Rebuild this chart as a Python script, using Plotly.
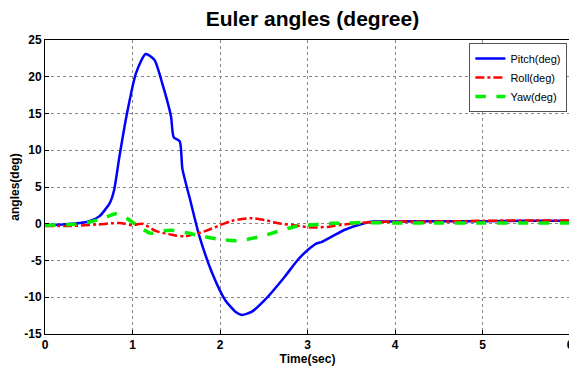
import plotly.graph_objects as go

# Pitch
pitch_t = [0.0, 0.2, 0.4, 0.5, 0.62, 0.74, 0.79, 0.85, 0.93, 1.04, 1.15, 1.25, 1.34, 1.44, 1.47, 1.54, 1.57,
           1.66, 1.76, 1.91, 2.06, 2.18, 2.25, 2.36, 2.51, 2.74, 2.89, 3.0, 3.1, 3.16, 3.42, 3.65, 3.75,
           4.0, 4.5, 5.0, 5.5, 6.0]
pitch_v = [-0.2, -0.1, 0.1, 0.3, 1.0, 2.8, 4.6, 9.1, 14.6, 20.5, 23.1, 22.3, 19.1, 14.6, 11.8, 11.2, 7.5,
           3.2, -1.5, -6.7, -10.4, -12.0, -12.4, -12.0, -10.4, -7.2, -4.9, -3.6, -2.7, -2.5, -0.85, 0.07, 0.3,
           0.3, 0.35, 0.35, 0.4, 0.4]

# Roll
roll_t = [0.0, 0.3, 0.6, 0.85, 1.0, 1.11, 1.27, 1.45, 1.6, 1.83, 2.0, 2.14, 2.36, 2.51, 2.7, 2.85, 3.04,
          3.25, 3.42, 3.7, 4.0, 4.5, 5.0, 5.5, 6.0]
roll_v = [-0.3, -0.3, -0.1, 0.1, -0.2, 0.0, -1.0, -1.5, -1.7, -1.0, -0.2, 0.4, 0.75, 0.5, 0.0, -0.2, -0.5,
          -0.4, -0.1, 0.2, 0.3, 0.3, 0.4, 0.45, 0.45]

# Yaw
yaw_t = [0.0, 0.3, 0.5, 0.6, 0.7, 0.81, 0.9, 1.0, 1.1, 1.21, 1.33, 1.45, 1.6, 1.76, 1.98, 2.2, 2.44, 2.7,
         2.89, 3.0, 3.2, 3.42, 3.7, 4.0, 4.5, 5.0, 5.5, 6.0]
yaw_v = [-0.2, -0.1, 0.2, 0.5, 0.9, 1.35, 1.0, 0.2, -0.6, -1.3, -1.0, -0.9, -1.2, -1.6, -2.1, -2.3, -1.8, -0.9,
         -0.3, -0.2, 0.0, 0.1, 0.15, 0.1, 0.1, 0.1, 0.1, 0.1]

x_ticks = [0, 1, 2, 3, 4, 5, 6]
y_ticks = [-15, -10, -5, 0, 5, 10, 15, 20, 25]

fnt = "Liberation Sans Narrow, Arial Narrow, Liberation Sans, Arial, sans-serif"

fig = go.Figure()
fig.add_trace(go.Scatter(x=pitch_t, y=pitch_v, mode="lines", name="Pitch(deg)",
                         line=dict(color="#0000ff", width=2.5, shape="spline", smoothing=0.6)))
fig.add_trace(go.Scatter(x=roll_t, y=roll_v, mode="lines", name="Roll(deg)",
                         line=dict(color="#ff0000", width=2.5, dash="dashdot", shape="spline", smoothing=0.8)))
fig.add_trace(go.Scatter(x=yaw_t, y=yaw_v, mode="lines", name="Yaw(deg)",
                         line=dict(color="#00ee00", width=3.5, dash="dash", shape="spline", smoothing=0.8)))

# page body adds an 8px offset, so the figure is sized to fit the 577x368 window
fig.update_layout(
    width=569, height=360,
    margin=dict(l=37, r=3, t=32, b=34),
    paper_bgcolor="white", plot_bgcolor="white",
    title=dict(text="<b>Euler angles (degree)</b>", x=0.535, xanchor="center", y=0.97, yanchor="middle",
               font=dict(family=fnt, size=21, color="black")),
    showlegend=True,
    legend=dict(x=0.995, y=0.99, xanchor="right", yanchor="top", bgcolor="white",
                bordercolor="#555555", borderwidth=1, font=dict(family=fnt, size=11, color="black"),
                tracegroupgap=0, itemwidth=30),
    font=dict(family=fnt, color="black"),
)
fig.update_xaxes(range=[0, 6], tickvals=x_ticks, ticktext=[f"<b>{v}</b>" for v in x_ticks],
                 ticklabeloverflow="allow",
                 showgrid=True, gridcolor="#888888", griddash="dot", gridwidth=1,
                 showline=True, linecolor="black", linewidth=1, mirror=True,
                 ticks="inside", ticklen=4, tickcolor="black", zeroline=False,
                 tickfont=dict(family=fnt, size=12, color="black"),
                 title=dict(text="<b>Time(sec)</b>", font=dict(family=fnt, size=12, color="black"), standoff=2))
fig.update_yaxes(range=[-15, 25], tickvals=y_ticks, ticktext=[f"<b>{v}</b>" for v in y_ticks],
                 showgrid=True, gridcolor="#888888", griddash="dot", gridwidth=1,
                 showline=True, linecolor="black", linewidth=1, mirror=True,
                 ticks="inside", ticklen=4, tickcolor="black", zeroline=False,
                 tickfont=dict(family=fnt, size=12, color="black"),
                 title=dict(text="<b>angles(deg)</b>", font=dict(family=fnt, size=12, color="black"), standoff=4))

fig.write_html("out.html")
